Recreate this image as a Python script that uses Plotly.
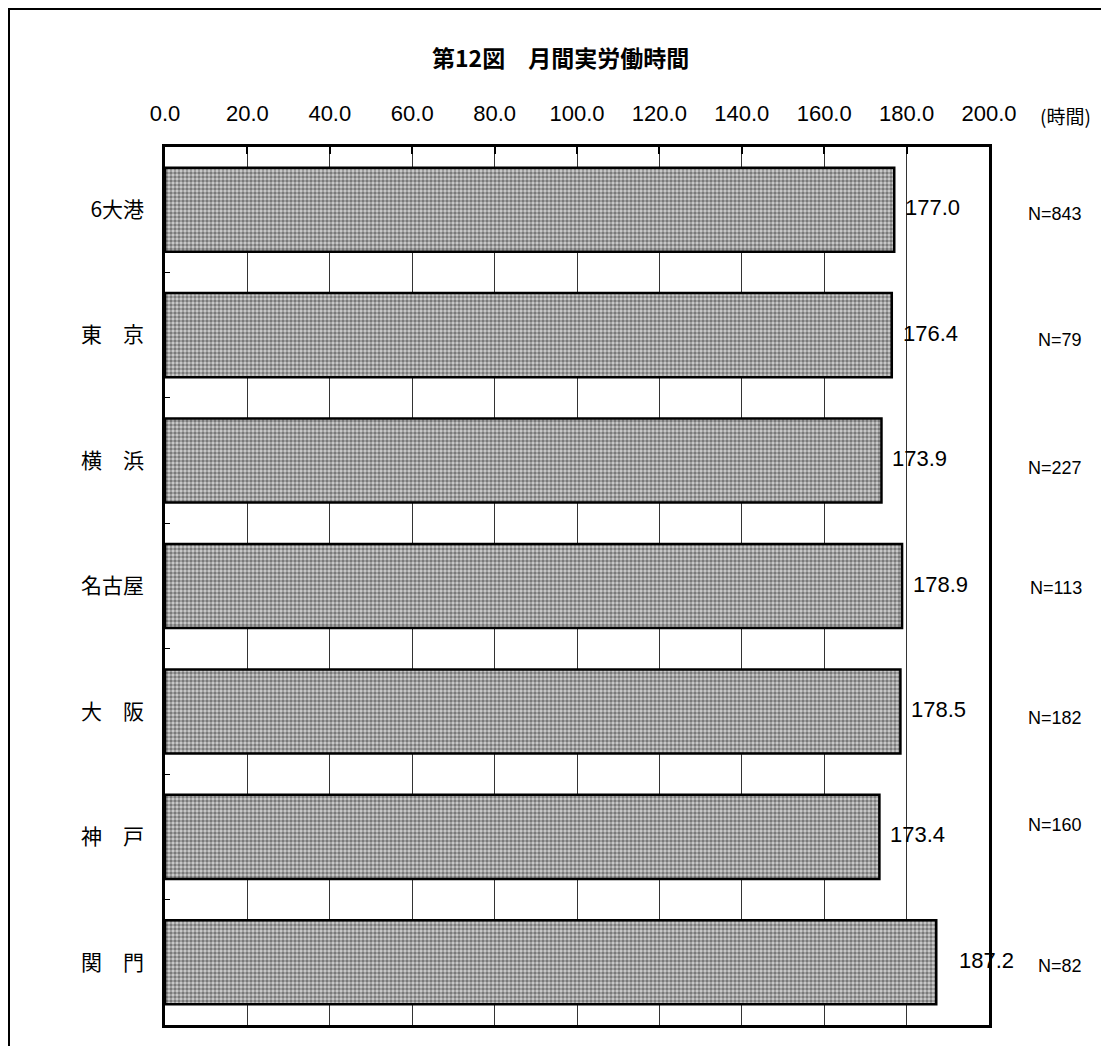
import plotly.graph_objects as go

categories = ["6大港", "東　京", "横　浜", "名古屋", "大　阪", "神　戸", "関　門"]
hours = [177.0, 176.4, 173.9, 178.9, 178.5, 173.4, 187.2]
n_labels = ["N=843", "N=79", "N=227", "N=113", "N=182", "N=160", "N=82"]
n_yshift = [-4, -5, -7, -2, -7, 12, -4]
value_xshift = [9, 9, 9, 9, 9, 9, 21]

W, H = 1101, 1046
L, R, T, B = 165, 1101 - 989, 147, 1046 - 1025
pw, ph = W - L - R, H - T - B

def px(x):
    return (x - L) / pw

def py(y):
    return (H - B - y) / ph

font_jp = "Noto Sans CJK JP"
font_num = "Liberation Sans"

fig = go.Figure()
fig.add_trace(go.Bar(
    y=categories, x=hours, orientation="h",
    marker=dict(
        color="#a0a0a0",
        line=dict(color="black", width=2.5),
        pattern=dict(shape=".", size=4, solidity=0.6, fgcolor="#222222", bgcolor="#d0d0d0"),
    ),
    showlegend=False, hoverinfo="x+y",
))

for v, cat, xs in zip(hours, categories, value_xshift):
    fig.add_annotation(x=v, xref="x", y=cat, yref="y", text=f"{v:.1f}",
                       xanchor="left", showarrow=False, xshift=xs, yshift=2,
                       font=dict(family=font_num, size=22, color="black"))

for lab, cat, ys in zip(n_labels, categories, n_yshift):
    fig.add_annotation(x=px(1084), xref="paper", y=cat, yref="y", text=lab,
                       xanchor="right", showarrow=False, yshift=ys,
                       font=dict(family=font_num, size=18, color="black"))

fig.add_annotation(x=px(560), y=py(57), xref="paper", yref="paper",
                   text="<b>第12図　月間実労働時間</b>", xanchor="center", yanchor="middle",
                   showarrow=False, font=dict(family=font_jp, size=23, color="black"))
fig.add_annotation(x=px(1065), y=py(115), xref="paper", yref="paper", text="(時間)",
                   xanchor="center", yanchor="middle",
                   showarrow=False, font=dict(family=font_jp, size=19, color="black"))

# outer frame
fig.add_shape(type="rect", xref="paper", yref="paper",
              x0=px(9), x1=px(1120), y0=py(1070), y1=py(9),
              line=dict(color="black", width=2), layer="below")

fig.update_layout(
    width=W, height=H,
    margin=dict(l=L, r=R, t=T, b=B),
    paper_bgcolor="white", plot_bgcolor="white",
    bargap=0.33,
    xaxis=dict(side="top", range=[0, 200], dtick=20, tick0=0, tickformat=".1f",
               showgrid=True, gridcolor="#333333", gridwidth=1,
               ticks="inside", ticklen=7, tickwidth=2, tickcolor="black",
               ticklabelstandoff=14,
               showline=True, linecolor="black", linewidth=2.5, mirror=True,
               zeroline=False,
               tickfont=dict(family=font_num, size=22, color="black")),
    yaxis=dict(autorange="reversed", showgrid=False,
               showline=True, linecolor="black", linewidth=2.5, mirror=True,
               ticks="inside", tickson="boundaries", ticklen=5, tickwidth=1, tickcolor="black",
               ticklabelstandoff=14,
               tickfont=dict(family=font_jp, size=21, color="black")),
)

fig.write_html("out.html", post_script="document.body.style.margin='0';",
               config={"displayModeBar": False})
